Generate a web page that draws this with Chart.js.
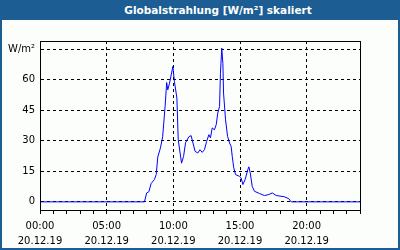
<!DOCTYPE html>
<html>
<head>
<meta charset="utf-8">
<script src="https://cdn.jsdelivr.net/npm/chart.js@4"></script>
<style>
  html, body { margin: 0; padding: 0; background: #fcfefc; }
  #frame {
    position: relative; width: 400px; height: 250px; box-sizing: border-box;
    border: 2px solid #1c5e93; border-top: none; background: #fcfefc;
  }
  #title {
    position: absolute; left: -2px; top: 0; width: 400px; height: 20px;
    background: #1c5e93; color: #fff; font: bold 10.5px "DejaVu Sans", sans-serif;
    line-height: 20px; text-align: center; text-indent: 36px; z-index: 2;
  }
  #wrap { position: absolute; left: -2px; top: 0; width: 400px; height: 250px; }
</style>
</head>
<body>
<div id="frame">
  <div id="title">Globalstrahlung [W/m²] skaliert</div>
  <div id="wrap"><canvas id="c" width="400" height="250"></canvas></div>
</div>
<script>
const dateLabel = '20.12.19'
const yUnit = 'W/m²'
const yTicks = [0, 15, 30, 45, 60, 75]

const times = [
  '00:00', '07:50', '08:00', '08:10', '08:20', '08:35', '08:43', '08:50', '09:02', '09:12',
  '09:23', '09:30', '09:35', '09:43', '09:58', '10:05', '10:16', '10:22', '10:37', '10:46',
  '10:55', '11:10', '11:20', '11:38', '11:50', '12:00', '12:10', '12:20', '12:30', '12:40',
  '12:47', '12:55', '13:05', '13:13', '13:20', '13:28', '13:32', '13:38', '13:43', '13:46',
  '13:55', '14:04', '14:13', '14:20', '14:25', '14:32', '14:40', '14:58', '15:05', '15:13',
  '15:23', '15:35', '15:40', '15:46', '15:55', '16:05', '16:28', '16:50', '17:10', '17:25',
  '17:43', '18:20', '18:40', '18:50', '24:00'
]
const values = [
  0, 0, 4.4, 5, 9, 11, 13.4, 22, 26.5, 32,
  47, 58.6, 55, 58.3, 66.5, 59, 51, 30.5, 19, 22.3,
  29, 32, 32.5, 24.8, 24, 25.6, 24.3, 25.6, 29.7, 33,
  31.4, 36.3, 35.4, 37.9, 43.6, 46.9, 63.2, 75.5, 68, 53.4,
  40.3, 32.2, 28.9, 27.3, 22.4, 16.7, 13.4, 12.5, 11.8, 8.5,
  10.9, 15.8, 17.2, 14.2, 7.6, 5.2, 4.1, 3.1, 3.6, 4.4,
  3.1, 2.5, 1.5, 0, 0
]

const toHours = s => { const [h, m] = s.split(':').map(Number); return h + m / 60 }
const points = times.map((t, i) => ({ x: toHours(t), y: values[i] }))

const frameBox = {
  id: 'frameBox',
  afterDraw(chart) {
    const { ctx, chartArea: a } = chart
    ctx.save()
    ctx.strokeStyle = '#000'
    ctx.lineWidth = 1
    ctx.strokeRect(Math.round(a.left) + 0.5, Math.round(a.top) + 0.5, a.right - a.left, a.bottom - a.top)
    ctx.restore()
  }
}

const dash = [3, 3]
const font = { family: 'DejaVu Sans', size: 10, lineHeight: '15px' }

new Chart(document.getElementById('c'), {
  type: 'line',
  data: {
    datasets: [{
      data: points,
      borderColor: '#0000ff',
      borderWidth: 1,
      pointRadius: 0,
      tension: 0,
      fill: false
    }]
  },
  options: {
    responsive: false,
    animation: false,
    plugins: { legend: { display: false }, tooltip: { enabled: false } },
    layout: { padding: { top: 41, right: 40, left: 0, bottom: 0 } },
    scales: {
      x: {
        type: 'linear', min: 0, max: 24,
        afterFit: s => { s.height = 40 },
        ticks: {
          stepSize: 1, autoSkip: false, maxRotation: 0, padding: 5,
          color: '#000', font,
          callback: v => (v % 5 === 0 && v < 24) ? [String(v).padStart(2, '0') + ':00', dateLabel] : ''
        },
        grid: {
          color: c => (c.tick && c.tick.value % 5 === 0) ? '#000' : 'rgba(0,0,0,0)',
          tickColor: '#000', tickLength: 4, tickBorderDash: [], lineWidth: 1
        },
        border: { display: true, color: '#000', dash }
      },
      y: {
        min: -4, max: 79,
        afterFit: s => { s.width = 40 },
        afterBuildTicks: s => { s.ticks = yTicks.map(v => ({ value: v })) },
        ticks: {
          padding: 5, color: '#000', font: { family: 'DejaVu Sans', size: 10 },
          callback: v => v === 75 ? yUnit : String(v)
        },
        grid: { color: '#000', drawTicks: false, lineWidth: 1 },
        border: { display: true, color: '#000', dash }
      }
    }
  },
  plugins: [frameBox]
})
</script>
</body>
</html>
